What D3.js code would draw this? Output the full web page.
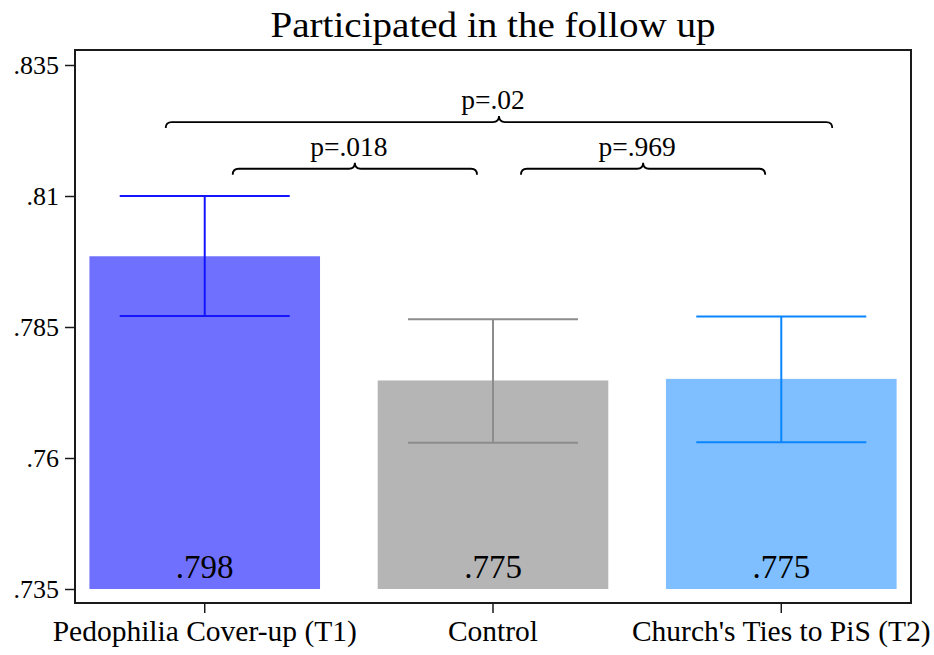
<!DOCTYPE html>
<html lang="en">
<head>
    <meta charset="utf-8" />
    <title>Participated in the follow up</title>
    <script src="https://d3js.org/d3.v7.min.js"></script>
    <style>
        body { margin: 0; background: #fff; }
        svg text { font-family: "Liberation Serif", "Times New Roman", serif; fill: #000; }
    </style>
</head>
<body>
    <div id="chart"></div>
    <script>
        // data
        const categories = ["Pedophilia Cover-up (T1)", "Control", "Church's Ties to PiS (T2)"];
        const means = [0.7985, 0.7748, 0.7751];
        const meanLabels = [".798", ".775", ".775"];
        const ciLow = [0.7871, 0.7629, 0.7630];
        const ciHigh = [0.8100, 0.7865, 0.7870];
        const yTicks = [0.735, 0.76, 0.785, 0.81, 0.835];
        const yTickLabels = [".735", ".76", ".785", ".81", ".835"];
        const comparisons = [
            { a: 0, b: 2, p: "p=.02" },
            { a: 0, b: 1, p: "p=.018" },
            { a: 1, b: 2, p: "p=.969" }
        ];
        const fills = ["#7070ff", "#b5b5b5", "#7fbfff"];
        const strokes = ["#1414ff", "#8c8c8c", "#0a85ff"];

        const W = 934, H = 655;
        const frame = { left: 75, top: 50, right: 911, bottom: 603 };

        const svg = d3.select("#chart").append("svg")
            .attr("width", W)
            .attr("height", H);

        const x = d3.scaleBand()
            .domain(categories)
            .range([frame.left, frame.right])
            .paddingInner(0.2)
            .paddingOuter(0.05);

        const y = d3.scaleLinear()
            .domain([0.735, 0.835])
            .range([589, 65]);

        const cx = i => x(categories[i]) + x.bandwidth() / 2;

        // bars
        svg.selectAll(".bar")
            .data(means)
            .enter().append("rect")
            .attr("class", "bar")
            .attr("x", (d, i) => x(categories[i]))
            .attr("y", d => y(d))
            .attr("width", x.bandwidth())
            .attr("height", d => y(y.domain()[0]) - y(d))
            .attr("fill", (d, i) => fills[i]);

        // error bars
        const capHalf = 85;
        const eb = svg.selectAll(".err")
            .data(means)
            .enter().append("g")
            .attr("class", "err")
            .attr("stroke", (d, i) => strokes[i])
            .attr("stroke-width", 2);
        eb.append("line")
            .attr("x1", (d, i) => cx(i)).attr("x2", (d, i) => cx(i))
            .attr("y1", (d, i) => y(ciHigh[i])).attr("y2", (d, i) => y(ciLow[i]));
        eb.append("line")
            .attr("x1", (d, i) => cx(i) - capHalf).attr("x2", (d, i) => cx(i) + capHalf)
            .attr("y1", (d, i) => y(ciHigh[i])).attr("y2", (d, i) => y(ciHigh[i]));
        eb.append("line")
            .attr("x1", (d, i) => cx(i) - capHalf).attr("x2", (d, i) => cx(i) + capHalf)
            .attr("y1", (d, i) => y(ciLow[i])).attr("y2", (d, i) => y(ciLow[i]));

        // value labels at the bottom of the bars
        svg.selectAll(".val")
            .data(meanLabels)
            .enter().append("text")
            .attr("class", "val")
            .attr("x", (d, i) => cx(i))
            .attr("y", 578)
            .attr("text-anchor", "middle")
            .attr("font-size", 33)
            .text(d => d);

        // frame
        svg.append("rect")
            .attr("x", frame.left).attr("y", frame.top)
            .attr("width", frame.right - frame.left)
            .attr("height", frame.bottom - frame.top)
            .attr("fill", "none")
            .attr("stroke", "#1a1a1a")
            .attr("stroke-width", 2);

        // axes
        const yAxis = d3.axisLeft(y)
            .tickValues(yTicks)
            .tickFormat((d, i) => yTickLabels[i])
            .tickSize(10)
            .tickPadding(6);
        svg.append("g")
            .attr("transform", `translate(${frame.left},0)`)
            .call(yAxis)
            .call(g => g.select(".domain").remove())
            .call(g => g.selectAll("line").attr("stroke", "#1a1a1a").attr("stroke-width", 1.5))
            .call(g => g.selectAll("text").attr("font-size", 26).attr("font-family", null));

        const xAxis = d3.axisBottom(x)
            .tickSize(10)
            .tickPadding(7);
        svg.append("g")
            .attr("transform", `translate(0,${frame.bottom})`)
            .call(xAxis)
            .call(g => g.select(".domain").remove())
            .call(g => g.selectAll("line").attr("stroke", "#1a1a1a").attr("stroke-width", 1.5))
            .call(g => g.selectAll("text").attr("font-size", 29.5).attr("font-family", null));

        // comparison brackets
        function bracket(x0, x1, yy) {
            const xm = (x0 + x1) / 2, r = 6;
            return `M${x0},${yy + r} Q${x0},${yy} ${x0 + r},${yy} L${xm - r},${yy} ` +
                `Q${xm},${yy} ${xm},${yy - r} Q${xm},${yy} ${xm + r},${yy} ` +
                `L${x1 - r},${yy} Q${x1},${yy} ${x1},${yy + r}`;
        }
        comparisons.forEach((c, k) => {
            const wide = c.b - c.a > 1;
            const x0 = wide ? cx(c.a) - 39 : cx(c.a) + 28;
            const x1 = wide ? cx(c.b) + 51 : cx(c.b) - 16;
            const yy = wide ? y(0.8241) : y(0.8152);
            svg.append("path")
                .attr("d", bracket(x0, x1, yy))
                .attr("fill", "none")
                .attr("stroke", "#000")
                .attr("stroke-width", 1.8);
            svg.append("text")
                .attr("x", (cx(c.a) + cx(c.b)) / 2)
                .attr("y", yy - 13)
                .attr("text-anchor", "middle")
                .attr("font-size", 27.5)
                .text(c.p);
        });

        // title
        svg.append("text")
            .attr("x", 493)
            .attr("y", 37)
            .attr("text-anchor", "middle")
            .attr("font-size", 36)
            .attr("textLength", 445)
            .attr("lengthAdjust", "spacingAndGlyphs")
            .text("Participated in the follow up");
    </script>
</body>
</html>
